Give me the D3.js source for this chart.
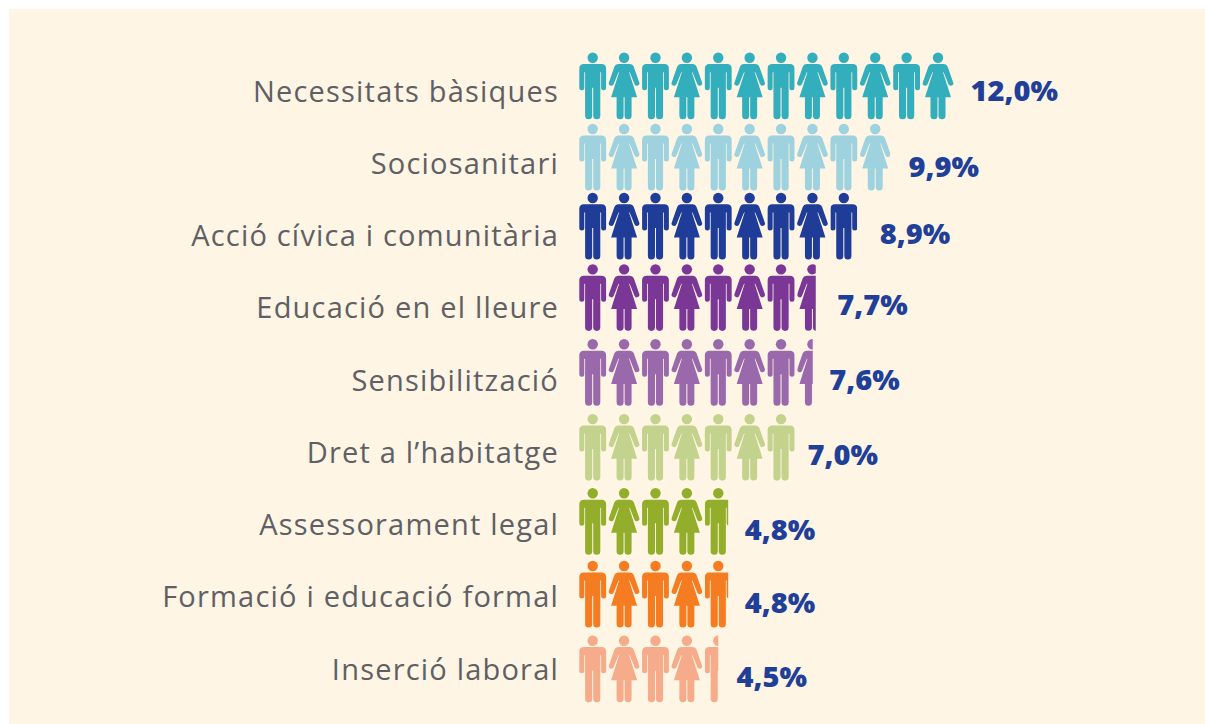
<!DOCTYPE html>
<html><head><meta charset="utf-8">
<script src="https://cdn.jsdelivr.net/npm/d3@7"></script>
<style>html,body{margin:0;padding:0;background:#fff}svg{display:block}</style>
</head><body><svg id="c" width="1205" height="724"></svg>
<script>
const categories = ["Necessitats bàsiques","Sociosanitari","Acció cívica i comunitària","Educació en el lleure","Sensibilització","Dret a l’habitatge","Assessorament legal","Formació i educació formal","Inserció laboral"];
const values = [12.0,9.9,8.9,7.7,7.6,7.0,4.8,4.8,4.5];
const valueLabels = ["12,0%","9,9%","8,9%","7,7%","7,6%","7,0%","4,8%","4,8%","4,5%"];
const colors = ["#33aebd","#9dd2de","#1f3d98","#7a3795","#9a69ab","#c3d28c","#93ae2a","#f57c20","#f6ac8a"];
// layout corrections: the source's rows and labels are hand-placed, not evenly spaced
const rowNudge = [0,-1.6,-5.5,-7,-4.9,-3,-1.7,-1.8,0];
const valueYNudge = [.5,3.9,-2.2,-5.2,-3.5,-1.2,-.2,-.1,.5];
const valueXNudge = [-.5,3,5.5,.5,-4.5,-7.5,-1.5,-1.5,-.5];

const W=1205,H=724;
const svg=d3.select("#c");
svg.append("rect").attr("x",9).attr("y",9).attr("width",W-9).attr("height",H-9).attr("fill","#fef5e4");

const rowY=d3.scalePoint().domain(categories).range([57.7,640.7]);
const labelY=d3.scalePoint().domain(categories).range([101.5,679.5]);
const valueY=d3.scalePoint().domain(categories).range([100,686.7]);
const iconX=d3.scaleLinear().domain([0,11]).range([592.7,938]);
const valueX=d3.scaleLinear().domain([4.5,12]).range([737,971]);
const partial=d3.scaleLinear().domain([.5,.6,.7,.8,.9]).range([.5,.51,.61,.87,1]);

const manPath="M-13.4,11Q-13.4,6.4-8.8,6.4H8.8Q13.4,6.4 13.4,11V30A2.5,2.5 0 0 1 8.4,30V14.5H7.6V58A3.5,3.5 0 0 1 .5,58V30H-.5V58A3.5,3.5 0 0 1-7.6,58V14.5H-8.4V30A2.5,2.5 0 0 1-13.4,30Z";
const womanPath="M-6,6.4H6Q8.7,6.4 9.7,9L15.1,24.5A2.5,2.5 0 0 1 10.4,26.4L5.6,14.5H5L13,39.6H7.5V58A3.5,3.5 0 0 1 .5,58V39.6H-.5V58A3.5,3.5 0 0 1-7.5,58V39.6H-13L-5,14.5H-5.6L-10.4,26.4A2.5,2.5 0 0 1-15.1,24.5L-9.7,9Q-8.7,6.4-6,6.4Z";
const halfW=[13.4,15.1];

const defs=svg.append("defs");
categories.forEach((cat,r)=>{
  const v=values[r], n=Math.ceil(v), frac=v-Math.floor(v);
  const y=rowY(cat)+rowNudge[r];
  const row=svg.append("g").attr("class","row").attr("fill",colors[r]);
  d3.range(n).forEach(i=>{
    const g=row.append("g").attr("transform",`translate(${iconX(i)},${y})`);
    const hw=halfW[i%2];
    if(i===n-1 && frac>0.001){
      const id="clip"+r;
      defs.append("clipPath").attr("id",id).append("rect")
        .attr("x",-hw).attr("y",-10).attr("width",2*hw*partial(frac)).attr("height",80);
      g.attr("clip-path",`url(#${id})`);
    }
    g.append("circle").attr("r",5.2);
    g.append("path").attr("d",i%2?womanPath:manPath);
  });
  svg.append("text").attr("x",559).attr("y",labelY(cat)).attr("text-anchor","end")
    .attr("font-family","'Open Sans',sans-serif").attr("font-size",29).attr("fill","#606064")
    .attr("letter-spacing",1.2).text(cat);
  svg.append("text").attr("x",valueX(v)+valueXNudge[r]).attr("y",valueY(cat)+valueYNudge[r])
    .attr("font-family","'Open Sans',sans-serif").attr("font-weight",800).attr("font-size",29)
    .attr("fill","#1f3f99").text(valueLabels[r]);
});
</script></body></html>
